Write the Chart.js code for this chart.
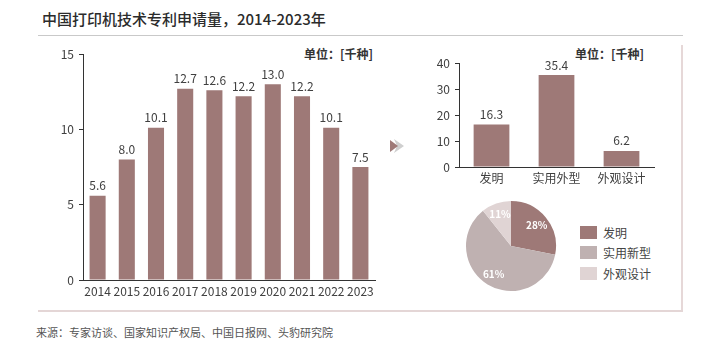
<!DOCTYPE html>
<html>
<head>
<meta charset="utf-8">
<script src="https://cdn.jsdelivr.net/npm/chart.js@4/dist/chart.umd.min.js"></script>
<style>
  html, body { margin: 0; padding: 0; background: #fff; }
  body { width: 720px; height: 347px; position: relative; overflow: hidden;
         font-family: "Noto Sans CJK SC", "Noto Sans", sans-serif; color: #333; }
  .box { position: absolute; }
  #titulo { left: 42px; top: 8px; font-size: 15px; font-weight: 500; color: #2b2b2b; }
  #lineaTop { left: 38px; top: 35px; width: 645px; height: 1px; background: #c9c9c9; }
  #lineaDer { left: 681px; top: 45px; width: 2px; height: 267px; background: #e6d8d8; }
  #lineaInf { left: 38px; top: 310px; width: 645px; height: 2px; background: #e4d6d6; }
  #fuente { left: 36px; top: 324px; font-size: 11px; color: #555; }
  .unidad { font-size: 12px; font-weight: 700; color: #333; }
  #unidad1 { left: 304px; top: 45px; }
  #unidad2 { left: 575px; top: 45px; }
  #leyenda { left: 580px; top: 222px; font-size: 12px; color: #444; }
  #leyenda div { height: 20.5px; display: flex; align-items: center; }
  #leyenda span.sw { width: 17px; height: 13px; margin-right: 6px; display: inline-block; }
</style>
</head>
<body>
<div class="box" id="titulo">中国打印机技术专利申请量，2014-2023年</div>
<div class="box" id="lineaTop"></div>
<div class="box" id="lineaDer"></div>
<div class="box" id="lineaInf"></div>
<div class="box unidad" id="unidad1">单位：[千种]</div>
<div class="box unidad" id="unidad2">单位：[千种]</div>

<div class="box" style="left:30px;top:40px;width:355px;height:262px"><canvas id="chartAnual"></canvas></div>
<div class="box" style="left:415px;top:50px;width:250px;height:145px"><canvas id="chartTipo"></canvas></div>
<div class="box" style="left:464px;top:199px;width:94px;height:94px"><canvas id="chartPie"></canvas></div>
<div class="box" id="leyenda"></div>

<svg class="box" style="left:388px;top:137px" width="20" height="18">
  <polygon points="6,2 16,9 6,16 9,9" fill="#cfcfcf"/>
  <polygon points="2,3 10,9 2,15" fill="#9e7977"/>
</svg>

<div class="box" id="fuente">来源：专家访谈、国家知识产权局、中国日报网、头豹研究院</div>

<script>
const ANIOS      = ['2014','2015','2016','2017','2018','2019','2020','2021','2022','2023'];
const SOLICITUDES = [5.6, 8.0, 10.1, 12.7, 12.6, 12.2, 13.0, 12.2, 10.1, 7.5];
const Y_TICKS_1  = [0, 5, 10, 15];

const TIPOS_BAR  = ['发明', '实用外型', '外观设计'];
const TIPOS_PIE  = ['发明', '实用新型', '外观设计'];
const POR_TIPO   = [16.3, 35.4, 6.2];
const Y_TICKS_2  = [0, 10, 20, 30, 40];

const BAR_COLOR  = '#9e7977';
const PIE_COLORS = ['#9e7977', '#bfb1b1', '#e0d4d4'];
const TXT        = '#404040';
const FONT       = '"Noto Sans CJK SC", "Noto Sans", sans-serif';

// etiquetas de valor encima de cada barra
const valorBarras = {
  id: 'valorBarras',
  afterDatasetsDraw(chart) {
    const { ctx } = chart;
    const meta = chart.getDatasetMeta(0);
    ctx.save();
    ctx.font = '12px ' + FONT;
    ctx.fillStyle = TXT;
    ctx.textAlign = 'center';
    ctx.textBaseline = 'bottom';
    meta.data.forEach((bar, i) => {
      ctx.fillText(chart.data.datasets[0].data[i].toFixed(1), bar.x, bar.y - 4);
    });
    ctx.restore();
  }
};

// porcentajes dentro del pastel
const pctPie = {
  id: 'pctPie',
  afterDatasetsDraw(chart) {
    const { ctx } = chart;
    const data = chart.data.datasets[0].data;
    const total = data.reduce((a, b) => a + b, 0);
    const meta = chart.getDatasetMeta(0);
    ctx.save();
    ctx.font = 'bold 10px ' + FONT;
    ctx.fillStyle = '#fff';
    ctx.textAlign = 'center';
    ctx.textBaseline = 'middle';
    meta.data.forEach((arc, i) => {
      const mid = (arc.startAngle + arc.endAngle) / 2;
      const r = arc.outerRadius * 0.74;
      ctx.fillText(Math.round(data[i] / total * 100) + '%', arc.x + Math.cos(mid) * r, arc.y + Math.sin(mid) * r);
    });
    ctx.restore();
  }
};

function opcionesBarras(maxY, paso, ticks, anchoY, altoX, pad) {
  return {
    responsive: true,
    maintainAspectRatio: false,
    animation: false,
    layout: { padding: pad },
    plugins: { legend: { display: false }, tooltip: { enabled: false } },
    scales: {
      x: {
        grid: { display: false, drawTicks: false },
        border: { color: '#333', width: 1 },
        ticks: { color: TXT, font: { size: 12, family: FONT }, padding: 4, maxRotation: 0, autoSkip: false },
        afterFit: s => { s.height = altoX; }
      },
      y: {
        min: 0, max: maxY,
        grid: { drawOnChartArea: false, drawTicks: true, tickLength: 4, color: '#333' },
        border: { color: '#333', width: 1 },
        ticks: { stepSize: paso, color: TXT, font: { size: 12, family: FONT }, padding: 5 },
        afterBuildTicks: s => { s.ticks = ticks.map(v => ({ value: v })); },
        afterFit: s => { s.width = anchoY; }
      }
    }
  };
}

new Chart(document.getElementById('chartAnual'), {
  type: 'bar',
  data: {
    labels: ANIOS,
    datasets: [{ data: SOLICITUDES, backgroundColor: BAR_COLOR, barPercentage: 0.55, categoryPercentage: 1 }]
  },
  options: opcionesBarras(15, 5, Y_TICKS_1, 53, 22, { top: 14, right: 10, left: 0, bottom: 0 }),
  plugins: [valorBarras]
});

new Chart(document.getElementById('chartTipo'), {
  type: 'bar',
  data: {
    labels: TIPOS_BAR,
    datasets: [{ data: POR_TIPO, backgroundColor: BAR_COLOR, barPercentage: 0.55, categoryPercentage: 1 }]
  },
  options: opcionesBarras(40, 10, Y_TICKS_2, 44, 28, { top: 13, right: 11, left: 0, bottom: 0 }),
  plugins: [valorBarras]
});

new Chart(document.getElementById('chartPie'), {
  type: 'pie',
  data: {
    labels: TIPOS_PIE,
    datasets: [{ data: POR_TIPO, backgroundColor: PIE_COLORS, borderWidth: 0 }]
  },
  options: {
    responsive: true,
    maintainAspectRatio: false,
    animation: false,
    layout: { padding: 2 },
    plugins: { legend: { display: false }, tooltip: { enabled: false } }
  },
  plugins: [pctPie]
});

// leyenda del pastel
document.getElementById('leyenda').innerHTML = TIPOS_PIE.map((t, i) =>
  `<div><span class="sw" style="background:${PIE_COLORS[i]}"></span>${t}</div>`
).join('');
</script>
</body>
</html>
